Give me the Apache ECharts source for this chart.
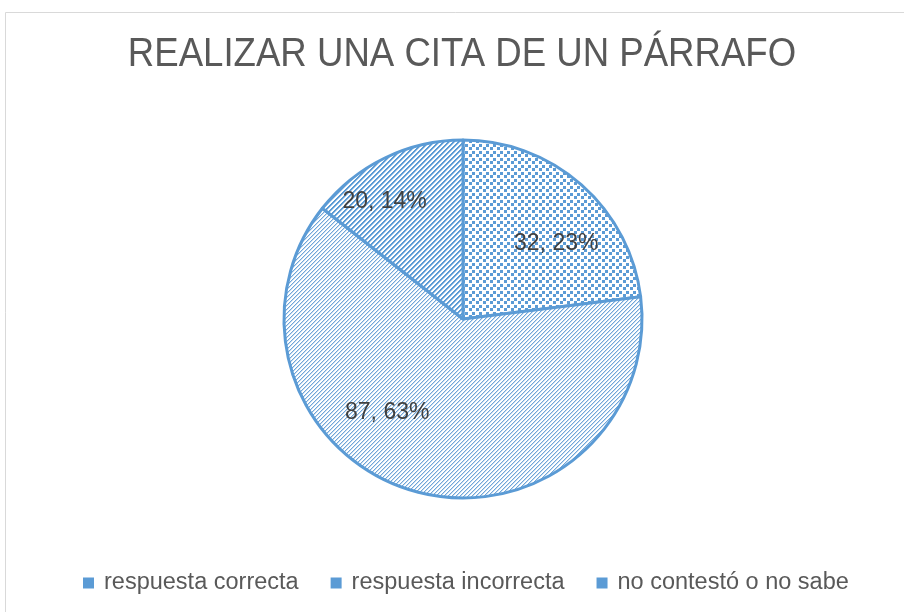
<!DOCTYPE html>
<html>
<head>
<meta charset="utf-8">
<script src="https://cdn.jsdelivr.net/npm/echarts@6/dist/echarts.min.js"></script>
<style>
html,body{margin:0;padding:0;background:#fff;}
#chart{width:904px;height:612px;}
</style>
</head>
<body>
<div id="chart"></div>
<script>
const title = 'REALIZAR UNA CITA DE UN PÁRRAFO';
const categories = ['respuesta correcta', 'respuesta incorrecta', 'no contestó o no sabe'];
const values = [32, 87, 20];

// label nudges (px) relative to the inner label position, per slice
const labelNudge = [[32, -6], [-51, 5], [-38, -34]];

const BLUE = '#5B9BD5';

function makeTile(size, drawFn) {
  const c = document.createElement('canvas');
  c.width = size; c.height = size;
  const ctx = c.getContext('2d');
  ctx.fillStyle = '#ffffff';
  ctx.fillRect(0, 0, size, size);
  drawFn(ctx, size);
  return c;
}
function dots(ctx, s) {
  ctx.fillStyle = BLUE;
  ctx.fillRect(0, 0, 3, 3);
  ctx.fillRect(3, 4, 3, 3);
}
function diag(colors) {
  return function (ctx, s) {
    for (let i = 0; i < s; i++) {
      colors.forEach((col, t) => {
        ctx.fillStyle = col;
        ctx.fillRect((i + t) % s, s - 1 - i, 1, 1);
      });
    }
  };
}
const patterns = [
  { image: makeTile(7, dots), repeat: 'repeat' },
  { image: makeTile(4, diag(['#6FA5D8', '#C9DDF1'])), repeat: 'repeat' },
  { image: makeTile(5, diag([BLUE, BLUE, '#B8D2EC'])), repeat: 'repeat' }
];

const chart = echarts.init(document.getElementById('chart'), null, { renderer: 'canvas' });
chart.setOption({
  backgroundColor: '#ffffff',
  animation: false,
  graphic: [{
    type: 'rect',
    shape: { x: 5.5, y: 12.5, width: 1000, height: 1000 },
    style: { fill: 'none', stroke: '#D9D9D9', lineWidth: 1 },
    silent: true
  }, {
    type: 'text',
    x: 462,
    y: 55,
    scaleX: 0.915,
    style: {
      text: title,
      textAlign: 'center',
      textVerticalAlign: 'middle',
      fontFamily: '"Liberation Sans", Arial, sans-serif',
      fontSize: 40,
      fill: '#595959'
    },
    silent: true
  }],
  legend: {
    data: categories.map(n => ({ name: n, itemStyle: { color: BLUE, borderColor: BLUE, borderWidth: 0 } })),
    left: 78,
    top: 566,
    icon: 'rect',
    itemWidth: 11,
    itemHeight: 11,
    itemGap: 32,
    textStyle: {
      fontFamily: '"Liberation Sans", Arial, sans-serif',
      fontSize: 23.5,
      color: '#595959',
      padding: [0, 0, 0, 5]
    }
  },
  series: [{
    type: 'pie',
    center: [463, 319],
    radius: 179,
    startAngle: 90,
    clockwise: true,
    percentPrecision: 0,
    data: categories.map((n, i) => ({
      name: n,
      value: values[i],
      itemStyle: { color: patterns[i] }
    })),
    itemStyle: { borderColor: BLUE, borderWidth: 3 },
    label: {
      show: true,
      position: 'inside',
      formatter: '{c}, {d}%',
      fontFamily: '"Liberation Sans", Arial, sans-serif',
      fontSize: 23,
      color: '#404040'
    },
    labelLine: { show: false },
    labelLayout: function (p) {
      const n = labelNudge[p.dataIndex];
      return { dx: n[0], dy: n[1] };
    },
    emphasis: { disabled: true }
  }]
});
</script>
</body>
</html>
